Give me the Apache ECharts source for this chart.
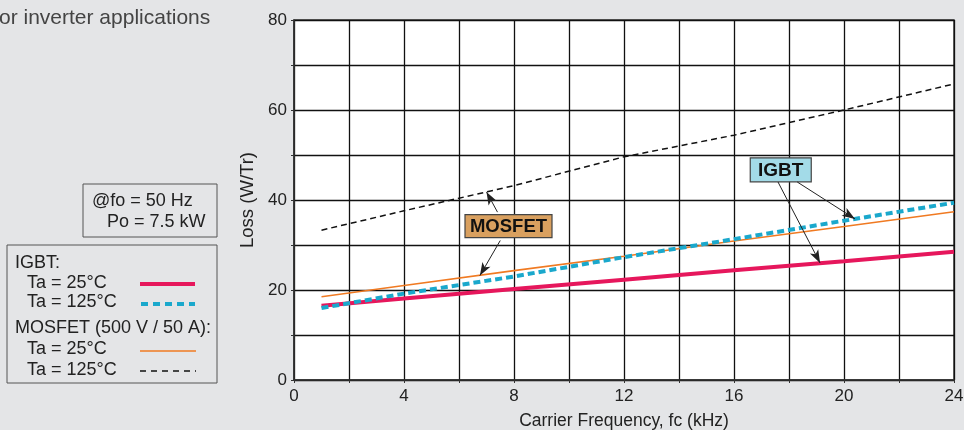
<!DOCTYPE html>
<html><head><meta charset="utf-8">
<script src="https://cdn.jsdelivr.net/npm/echarts@6/dist/echarts.min.js"></script>
<style>html,body{margin:0;padding:0;background:#e4e5e7;}#c{width:964px;height:430px;}</style>
</head><body><div id="c"></div>
<script>
// ---- data ----
const freqKHz = [1, 4, 8, 12, 16, 20, 24];
const igbt25 = [16.5, 18.1, 20.2, 22.3, 24.4, 26.4, 28.5];
const igbt125 = [16.0, 19.2, 23.0, 27.3, 31.3, 35.4, 39.4];
const mosfet25 = [18.5, 21.0, 24.3, 27.5, 30.9, 34.1, 37.4];
const mosfet125 = [33.3, 37.6, 43.2, 49.6, 54.4, 60.0, 65.8];
const xTickLabels = [0, 4, 8, 12, 16, 20, 24];
const yTickLabels = [0, 20, 40, 60, 80];
const legendTitles = ['IGBT:', 'MOSFET (500 V / 50 A):'];
const legendItems = ['Ta = 25°C', 'Ta = 125°C', 'Ta = 25°C', 'Ta = 125°C'];
const conditionText = ['@fo = 50 Hz', 'Po = 7.5 kW'];
const titleText = 'or inverter applications';
const xName = 'Carrier Frequency, fc (kHz)';
const yName = 'Loss (W/Tr)';
// annotation anchors (data coords)
const mosfetLabel = {text: 'MOSFET', at: [7.8, 34.2], arrows: [[[7.4, 37.3], [7.0, 41.8]], [[7.5, 31.0], [6.76, 23.2]]]};
const igbtLabel = {text: 'IGBT', at: [17.7, 46.7], arrows: [[[17.6, 44.0], [19.13, 26.0]], [[18.3, 44.0], [20.4, 35.8]]]};

const FONT = '"Liberation Sans", Arial, Helvetica, sans-serif';
const chart = echarts.init(document.getElementById('c'));
const pair = (xs, ys) => xs.map((x, i) => [x, ys[i]]);

function arrowLines(a) {
  return a.arrows.map(ar => [{coord: ar[0]}, {coord: ar[1]}]);
}

chart.setOption({
  backgroundColor: '#e4e5e7',
  animation: false,
  textStyle: {fontFamily: FONT},
  grid: {left: 294, right: 10, top: 20, bottom: 50, containLabel: false, outerBoundsMode: 'none',
         show: true, backgroundColor: '#ffffff', borderColor: '#333', borderWidth: 1.5},
  xAxis: {
    type: 'value', min: 0, max: 24, interval: 2,
    name: xName, nameLocation: 'middle', nameGap: 32,
    nameTextStyle: {fontSize: 17.5, color: '#222', fontFamily: FONT},
    axisLine: {show: true, lineStyle: {color: '#333', width: 1.5}},
    axisTick: {show: true, length: 3, lineStyle: {color: '#333'}},
    axisLabel: {fontSize: 17, color: '#222', margin: 8, fontFamily: FONT,
      formatter: v => xTickLabels.includes(v) ? String(v) : ''},
    splitLine: {show: true, lineStyle: {color: '#111', width: 1.3}}
  },
  yAxis: {
    type: 'value', min: 0, max: 80, interval: 10,
    name: yName, nameLocation: 'middle', nameGap: 18, nameRotate: 90,
    nameTextStyle: {fontSize: 18.5, color: '#222', fontFamily: FONT},
    axisLine: {show: true, lineStyle: {color: '#333', width: 1.5}},
    axisTick: {show: true, length: 3, lineStyle: {color: '#333'}},
    axisLabel: {fontSize: 17, color: '#222', margin: 7, fontFamily: FONT,
      formatter: v => yTickLabels.includes(v) ? String(v) : ''},
    splitLine: {show: true, lineStyle: {color: '#111', width: 1.3}}
  },
  series: [
    {type: 'line', name: 'MOSFET 125', data: pair(freqKHz, mosfet125), symbol: 'none',
     lineStyle: {color: '#111', width: 1.5, type: [6, 4]}},
    {type: 'line', name: 'MOSFET 25', data: pair(freqKHz, mosfet25), symbol: 'none',
     lineStyle: {color: '#f07a22', width: 1.6}},
    {type: 'line', name: 'IGBT 25', data: pair(freqKHz, igbt25), symbol: 'none',
     lineStyle: {color: '#e6175c', width: 4}},
    {type: 'line', name: 'IGBT 125', data: pair(freqKHz, igbt125), symbol: 'none',
     lineStyle: {color: '#1aa8cc', width: 4, type: [7, 4]},
     markLine: {silent: true, symbol: ['none', 'arrow'], symbolSize: [7, 13], animation: false,
       lineStyle: {color: '#222', width: 1, type: 'solid'}, label: {show: false},
       data: arrowLines(mosfetLabel).concat(arrowLines(igbtLabel))}}
  ]
});

function box(lbl, w, h, fill, fs) {
  const p = chart.convertToPixel({gridIndex: 0}, lbl.at);
  return {type: 'group', x: p[0] - w / 2, y: p[1] - h / 2, z: 100, children: [
    {type: 'rect', shape: {x: 0, y: 0, width: w, height: h}, style: {fill: fill, stroke: '#444', lineWidth: 1.2}},
    {type: 'text', x: w / 2, y: h / 2 + 1, style: {text: lbl.text, fill: '#111', font: 'bold ' + fs + 'px ' + FONT, textAlign: 'center', textVerticalAlign: 'middle'}}
  ]};
}

const T = (text, x, y, extra) => Object.assign({type: 'text', x: x, y: y, style: Object.assign({text: text, fill: '#222', font: '18px ' + FONT, textVerticalAlign: 'middle'}, extra || {})});
const L = (x1, x2, y, color, w, dash) => ({type: 'line', shape: {x1: x1, y1: y, x2: x2, y2: y}, style: {stroke: color, lineWidth: w, lineDash: dash || null}});

chart.setOption({graphic: [
  T(titleText, -1, 18, {fill: '#444', font: '21px ' + FONT}),
  {type: 'rect', shape: {x: 83, y: 184, width: 134, height: 53}, style: {fill: 'none', stroke: '#555', lineWidth: 1}},
  T(conditionText[0], 92, 201),
  T(conditionText[1], 107, 222),
  {type: 'rect', shape: {x: 7, y: 245, width: 210, height: 138}, style: {fill: 'none', stroke: '#555', lineWidth: 1}},
  T(legendTitles[0], 15, 263),
  T(legendItems[0], 27, 283),
  T(legendItems[1], 27, 302),
  T(legendTitles[1], 15, 328),
  T(legendItems[2], 27, 349),
  T(legendItems[3], 27, 370),
  L(140, 195, 284, '#e6175c', 4),
  L(141, 195, 304, '#1aa8cc', 4, [7, 5]),
  L(140, 196, 351, '#f07a22', 1.6),
  L(140, 196, 371, '#111', 1.5, [6, 5]),
  box(mosfetLabel, 87, 23, '#d9a05f', 18.5),
  box(igbtLabel, 61, 24, '#a3dbe8', 19)
]});
</script></body></html>
